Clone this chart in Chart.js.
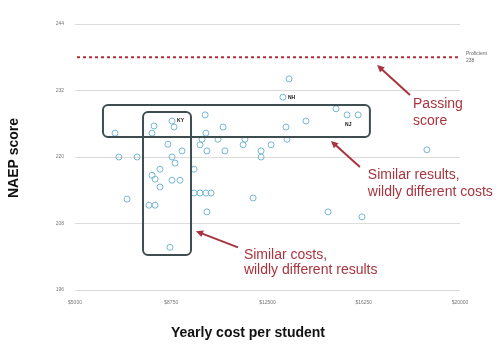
<!DOCTYPE html>
<html>
<head>
<meta charset="utf-8">
<script src="https://cdn.jsdelivr.net/npm/chart.js@4.4.1/dist/chart.umd.min.js"></script>
<style>
  html, body { margin: 0; padding: 0; background: #fff; }
  #wrap { width: 504px; height: 351px; }
</style>
</head>
<body>
<div id="wrap"><canvas id="chart" width="504" height="351"></canvas></div>
<script>
// yearly cost per student ($) and NAEP score per state
const costs = [
    6560, 8780, 8860, 8080, 8000, 8620, 9170, 6710, 7420, 8780,
    8900, 8310, 8000, 8120, 8310, 8780, 9090, 7030, 7880, 8120,
    8700, 9640, 9640, 9870, 10100, 10300, 13340, 13100, 10070, 10770,
    10100, 9950, 9870, 10570, 10140, 10840, 11620, 11550, 12250, 12250,
    12640, 13220, 13260, 14000, 15170, 15600, 16030, 11940, 10140, 14860,
    16180, 18710
];
const scores = [
    224.3, 226.5, 225.4, 225.6, 224.3, 222.3, 221.1, 220.0, 220.0, 220.0,
    218.9, 217.8, 216.7, 216.0, 214.6, 215.8, 215.8, 212.4, 211.3, 211.3,
    203.7, 217.8, 213.5, 213.5, 213.5, 213.5, 234.1, 230.8, 227.6, 225.4,
    224.3, 223.2, 222.2, 223.2, 221.1, 221.1, 223.2, 222.2, 221.1, 220.0,
    222.2, 225.4, 223.2, 226.5, 228.7, 227.6, 227.6, 212.6, 210.1, 210.1,
    209.2, 221.3
];
const stateLabels = { 1: 'KY', 27: 'NH', 45: 'NJ' };

const yTicks = [196, 208, 220, 232, 244];
const xTicks = [5000, 8750, 12500, 16250, 20000];
const proficientScore = 238;

// annotation boxes and arrows, in data units
const boxes = [
    { x0: 6090, x1: 16490, y0: 229.4, y1: 223.6 },
    { x0: 7650, x1: 9520, y0: 228.1, y1: 202.3 }
];
const arrows = [
    { from: [18050, 231.2], to: [16770, 236.6] },
    { from: [16100, 218.2], to: [14970, 222.9] },
    { from: [11350, 203.7], to: [9710, 206.6] }
];
const notes = [
    { x: 18170, y: 229.6, text: 'Passing' },
    { x: 18170, y: 226.5, text: 'score' },
    { x: 16410, y: 216.7, text: 'Similar results,' },
    { x: 16410, y: 213.6, text: 'wildly different costs' },
    { x: 11580, y: 202.3, text: 'Similar costs,' },
    { x: 11580, y: 199.5, text: 'wildly different results' }
];

const points = costs.map((c, i) => ({ x: c, y: scores[i] }));
const noteColor = '#a9343f';

const annotations = {
    id: 'annotations',
    beforeDatasetsDraw(chart) {
        const { ctx, chartArea, scales } = chart;
        const y = scales.y.getPixelForValue(proficientScore);
        ctx.save();
        ctx.strokeStyle = '#b02f38';
        ctx.lineWidth = 2;
        ctx.setLineDash([3, 3]);
        ctx.beginPath();
        ctx.moveTo(chartArea.left + 2, y);
        ctx.lineTo(chartArea.right, y);
        ctx.stroke();
        ctx.setLineDash([]);
        ctx.fillStyle = '#666';
        ctx.font = '5px "Liberation Sans"';
        ctx.textBaseline = 'middle';
        ctx.fillText('Proficient', chartArea.right + 6, y - 4);
        ctx.fillText(String(proficientScore), chartArea.right + 6, y + 3);
        ctx.restore();
    },
    afterDraw(chart) {
        const { ctx, scales } = chart;
        const px = v => scales.x.getPixelForValue(v);
        const py = v => scales.y.getPixelForValue(v);
        ctx.save();

        // boxes
        ctx.strokeStyle = '#3e4d4f';
        ctx.lineWidth = 2;
        boxes.forEach(b => {
            const x = px(b.x0), y = py(b.y0);
            ctx.beginPath();
            ctx.roundRect(x, y, px(b.x1) - x, py(b.y1) - y, 5);
            ctx.stroke();
        });

        // arrows
        ctx.strokeStyle = noteColor;
        ctx.fillStyle = noteColor;
        arrows.forEach(a => {
            const x1 = px(a.from[0]), y1 = py(a.from[1]);
            const x2 = px(a.to[0]), y2 = py(a.to[1]);
            const ang = Math.atan2(y2 - y1, x2 - x1);
            ctx.lineWidth = 2;
            ctx.beginPath();
            ctx.moveTo(x1, y1);
            ctx.lineTo(x2 - 4 * Math.cos(ang), y2 - 4 * Math.sin(ang));
            ctx.stroke();
            ctx.beginPath();
            ctx.moveTo(x2, y2);
            ctx.lineTo(x2 - 8 * Math.cos(ang - 0.45), y2 - 8 * Math.sin(ang - 0.45));
            ctx.lineTo(x2 - 8 * Math.cos(ang + 0.45), y2 - 8 * Math.sin(ang + 0.45));
            ctx.closePath();
            ctx.fill();
        });

        ctx.font = '14px "Liberation Sans"';
        ctx.textBaseline = 'middle';
        notes.forEach(n => ctx.fillText(n.text, px(n.x), py(n.y)));

        // state labels
        ctx.fillStyle = '#111';
        ctx.font = 'bold 5px "Liberation Sans"';
        Object.keys(stateLabels).forEach(i => {
            const x = px(costs[i]), y = py(scores[i]);
            if (stateLabels[i] === 'NJ') {
                ctx.fillText(stateLabels[i], x - 2, y + 10);
            } else {
                ctx.fillText(stateLabels[i], x + 5, y);
            }
        });

        // axis titles
        ctx.fillStyle = '#111';
        ctx.font = 'bold 14px "Liberation Sans"';
        ctx.textAlign = 'center';
        ctx.fillText('Yearly cost per student', 248, 333);
        ctx.translate(14, 158);
        ctx.rotate(-Math.PI / 2);
        ctx.fillText('NAEP score', 0, 0);
        ctx.restore();
    }
};

new Chart(document.getElementById('chart'), {
    type: 'scatter',
    data: {
        datasets: [{
            label: 'States',
            data: points,
            pointRadius: 3,
            pointBorderWidth: 1,
            pointBackgroundColor: 'rgba(255,255,255,0)',
            pointBorderColor: '#74b6d6'
        }]
    },
    options: {
        responsive: false,
        animation: false,
        layout: { padding: { top: 24, right: 44, left: 0, bottom: 0 } },
        plugins: { legend: { display: false }, tooltip: { enabled: false } },
        scales: {
            x: {
                type: 'linear',
                min: xTicks[0],
                max: xTicks[xTicks.length - 1],
                afterFit: s => { s.height = 61; },
                afterBuildTicks: s => { s.ticks = xTicks.map(v => ({ value: v })); },
                grid: { display: false },
                border: { display: false },
                ticks: {
                    padding: 2,
                    color: '#777',
                    font: { size: 5, family: 'Liberation Sans' },
                    maxRotation: 0,
                    callback: v => '$' + v
                }
            },
            y: {
                min: yTicks[0],
                max: yTicks[yTicks.length - 1],
                afterFit: s => { s.width = 75; },
                afterBuildTicks: s => { s.ticks = yTicks.map(v => ({ value: v })); },
                grid: { color: '#dcdcdc', lineWidth: 1, drawTicks: false },
                border: { display: false },
                ticks: {
                    padding: 11,
                    color: '#777',
                    font: { size: 5, family: 'Liberation Sans' }
                }
            }
        }
    },
    plugins: [annotations]
});
</script>
</body>
</html>
